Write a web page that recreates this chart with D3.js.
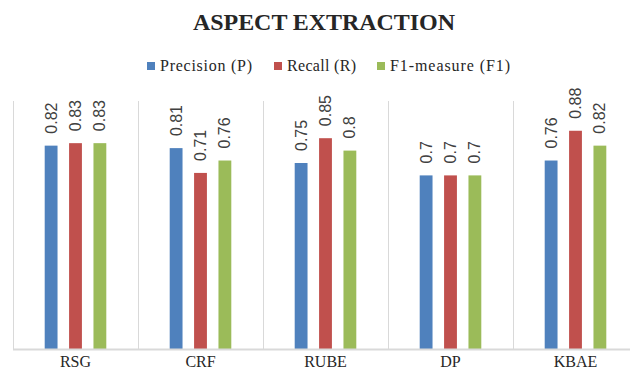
<!DOCTYPE html>
<html><head><meta charset="utf-8">
<script src="https://cdn.jsdelivr.net/npm/d3@7"></script>
<style>body{margin:0;background:#fff}</style>
</head><body>
<script>
const categories = ["RSG","CRF","RUBE","DP","KBAE"];
const seriesNames = ["Precision (P)","Recall (R)","F1-measure (F1)"];
const precision = [0.82,0.81,0.75,0.7,0.76];
const recall = [0.83,0.71,0.85,0.7,0.88];
const f1 = [0.83,0.76,0.8,0.7,0.82];
const colors = ["#4F81BD","#C0504D","#9BBB59"];
const seriesValues = [precision, recall, f1];

const W=630,H=373;
const svg=d3.select("body").append("svg").attr("width",W).attr("height",H);
const pLeft=13, pRight=638, pTop=101, pBottom=349;
const x0=d3.scaleBand().domain(categories).range([pLeft,pRight]);
const x1=d3.scaleBand().domain(d3.range(3)).range([0,x0.bandwidth()]).paddingInner(0.9/1.9).paddingOuter(1.3);
const y=d3.scaleLinear().domain([0,1]).range([pBottom,pTop]);

// gridlines
svg.append("g").selectAll("line").data(categories).join("line")
 .attr("x1",d=>x0(d)+0.5).attr("x2",d=>x0(d)+0.5).attr("y1",pTop).attr("y2",pBottom)
 .attr("stroke","#d9d9d9").attr("stroke-width",1);

const g=svg.append("g");
categories.forEach((c,i)=>{
  seriesValues.forEach((vals,s)=>{
    const bx=x0(c)+x1(s), bw=x1.bandwidth();
    g.append("rect").attr("x",bx).attr("y",y(vals[i])).attr("width",bw).attr("height",pBottom-y(vals[i]))
      .attr("fill",colors[s]);
    g.append("text").attr("transform",`translate(${bx+bw/2+5.5},${y(vals[i])-12}) rotate(-90)`)
      .attr("font-family","Liberation Sans, Arial, sans-serif").attr("font-size",16).attr("fill","#404040")
      .text(String(vals[i]));
  });
});

// baseline
svg.append("line").attr("x1",pLeft).attr("x2",W).attr("y1",pBottom+0.5).attr("y2",pBottom+0.5)
 .attr("stroke","#d9d9d9").attr("stroke-width",2);

// x axis labels
svg.append("g").selectAll("text").data(categories).join("text")
 .attr("x",d=>x0(d)+x0.bandwidth()/2).attr("y",367).attr("text-anchor","middle")
 .attr("font-family","Liberation Serif, serif").attr("font-size",16).attr("fill","#262626").text(d=>d);

// title
svg.append("text").attr("x",193).attr("y",30)
 .attr("font-family","Liberation Serif, serif").attr("font-weight","bold").attr("font-size",24)
 .attr("textLength",262).attr("lengthAdjust","spacing")
 .attr("fill","#262626").text("ASPECT EXTRACTION");

// legend
const legX=[147,274,377];
const legW=[92,69,120];
const leg=svg.append("g");
seriesNames.forEach((n,s)=>{
  leg.append("rect").attr("x",legX[s]).attr("y",62).attr("width",8).attr("height",8).attr("fill",colors[s]);
  leg.append("text").attr("x",legX[s]+13).attr("y",70.5).attr("font-family","Liberation Serif, serif")
   .attr("font-size",16).attr("textLength",legW[s]).attr("lengthAdjust","spacing")
   .attr("fill","#262626").text(n);
});
</script>
</body></html>
